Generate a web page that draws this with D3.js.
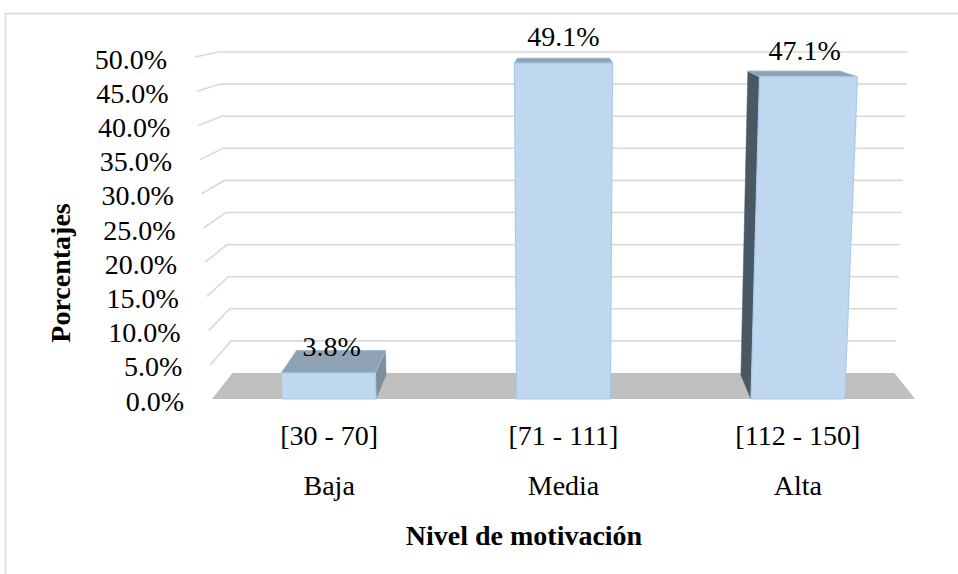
<!DOCTYPE html>
<html>
<head>
<meta charset="utf-8">
<script src="https://cdn.jsdelivr.net/npm/d3@7"></script>
<style>
  html, body { margin: 0; padding: 0; background: #fff; }
  svg { display: block; }
</style>
</head>
<body>
<svg id="chart" width="958" height="574"></svg>
<script>
// ---- data ----
const ranges = ["[30 - 70]", "[71 - 111]", "[112 - 150]"];
const levels = ["Baja", "Media", "Alta"];
const percentages = [3.8, 49.1, 47.1];
const yTicks = [0, 5, 10, 15, 20, 25, 30, 35, 40, 45, 50];
const yTitle = "Porcentajes";
const xTitle = "Nivel de motivación";

const FONT = "'Liberation Serif', 'Times New Roman', Times, 'DejaVu Serif', serif";

// ---- 3D-ish projection built from linear scales ----
const svg = d3.select("#chart").attr("font-family", FONT);
const cx = 563.5;
const yFront = d3.scaleLinear().domain([0, 50]).range([399, 57]);
const yBack  = d3.scaleLinear().domain([0, 50]).range([373, 52]);
const hwFront = d3.scaleLinear().domain([0, 50]).range([351.5, 368.5]);
const hwBack  = d3.scaleLinear().domain([0, 50]).range([331, 344.5]);
const xBand = d3.scaleBand().domain(ranges).range([0, 1]).paddingInner(0.6).paddingOuter(0.3);
const fmt = d3.format(".1%");

function proj(X, Y, Z) {
  const hw = hwFront(Y) + (hwBack(Y) - hwFront(Y)) * Z;
  const y = yFront(Y) + (yBack(Y) - yFront(Y)) * Z;
  return [cx + (X - 0.5) * 2 * hw, y];
}
const poly = pts => pts.map(p => p.join(",")).join(" ");
function txt(sel) {
  return sel.attr("font-family", FONT).style("font-family", FONT).attr("fill", "#000");
}

// chart border
svg.append("rect").attr("x", 5.5).attr("y", 13.5).attr("width", 960).attr("height", 570)
  .attr("fill", "none").attr("stroke", "#D9D9D9").attr("stroke-width", 1.5);

// floor
svg.append("polygon")
  .attr("points", poly([proj(0, 0, 0), proj(1, 0, 0), proj(1, 0, 1), proj(0, 0, 1)]))
  .attr("fill", "#BFBFBF");

// gridlines (side + back wall)
svg.append("g").selectAll("polyline").data(yTicks.filter(t => t > 0)).join("polyline")
  .attr("points", t => poly([proj(0, t, 0), proj(0, t, 1), proj(1, t, 1)]))
  .attr("fill", "none").attr("stroke", "#D9D9D9").attr("stroke-width", 1.6);

// y tick labels
txt(svg.append("g").selectAll("text").data(yTicks).join("text"))
  .attr("x", t => proj(0, t, 0)[0] - 28)
  .attr("y", t => proj(0, t, 0)[1] + 11.5)
  .attr("text-anchor", "end").attr("font-size", 28)
  .text(t => fmt(t / 100));

// bars
const Z0 = 0, Z1 = 0.92;
const bars = svg.append("g");
percentages.forEach((v, i) => {
  const x0 = xBand(ranges[i]), x1 = x0 + xBand.bandwidth();
  const fbl = proj(x0, 0, Z0), fbr = proj(x1, 0, Z0), ftl = proj(x0, v, Z0), ftr = proj(x1, v, Z0);
  const bbl = proj(x0, 0, Z1), bbr = proj(x1, 0, Z1), btl = proj(x0, v, Z1), btr = proj(x1, v, Z1);
  if (btl[0] < ftl[0] - 0.5) {
    bars.append("polygon").attr("points", poly([fbl, ftl, btl, bbl]))
      .attr("fill", "#4A5863").attr("stroke", "#4A5863").attr("stroke-width", 0.5);
  }
  if (btr[0] > ftr[0] + 0.5) {
    bars.append("polygon").attr("points", poly([fbr, ftr, btr, bbr]))
      .attr("fill", "#7C8E9D").attr("stroke", "#7C8E9D").attr("stroke-width", 0.5);
  }
  bars.append("polygon").attr("points", poly([ftl, ftr, btr, btl]))
    .attr("fill", "#8EA2B4").attr("stroke", "#9DB7CF").attr("stroke-width", 1);
  bars.append("polygon").attr("points", poly([fbl, fbr, ftr, ftl]))
    .attr("fill", "#BFD8EF").attr("stroke", "#A9CBEA").attr("stroke-width", 1.2);
});

// data labels
txt(svg.append("g").selectAll("text").data(percentages).join("text"))
  .attr("x", (v, i) => proj(xBand(ranges[i]) + xBand.bandwidth() / 2, v, 0.25)[0])
  .attr("y", v => proj(0, v, 0)[1] - 17)
  .attr("text-anchor", "middle").attr("font-size", 28)
  .text(v => fmt(v / 100));

// category labels (two rows)
const catX = i => proj(xBand(ranges[i]) + xBand.bandwidth() / 2, 0, 0)[0];
txt(svg.append("g").selectAll("text").data(ranges).join("text"))
  .attr("x", (d, i) => catX(i)).attr("y", 445)
  .attr("text-anchor", "middle").attr("font-size", 28).text(d => d);
txt(svg.append("g").selectAll("text").data(levels).join("text"))
  .attr("x", (d, i) => catX(i)).attr("y", 495)
  .attr("text-anchor", "middle").attr("font-size", 28).text(d => d);

// axis titles
txt(svg.append("text")).attr("x", 524).attr("y", 545).attr("text-anchor", "middle")
  .attr("font-size", 28).attr("font-weight", "bold").text(xTitle);
txt(svg.append("text")).attr("transform", "translate(70,273) rotate(-90)").attr("text-anchor", "middle")
  .attr("font-size", 28).attr("font-weight", "bold").text(yTitle);
</script>
</body>
</html>
